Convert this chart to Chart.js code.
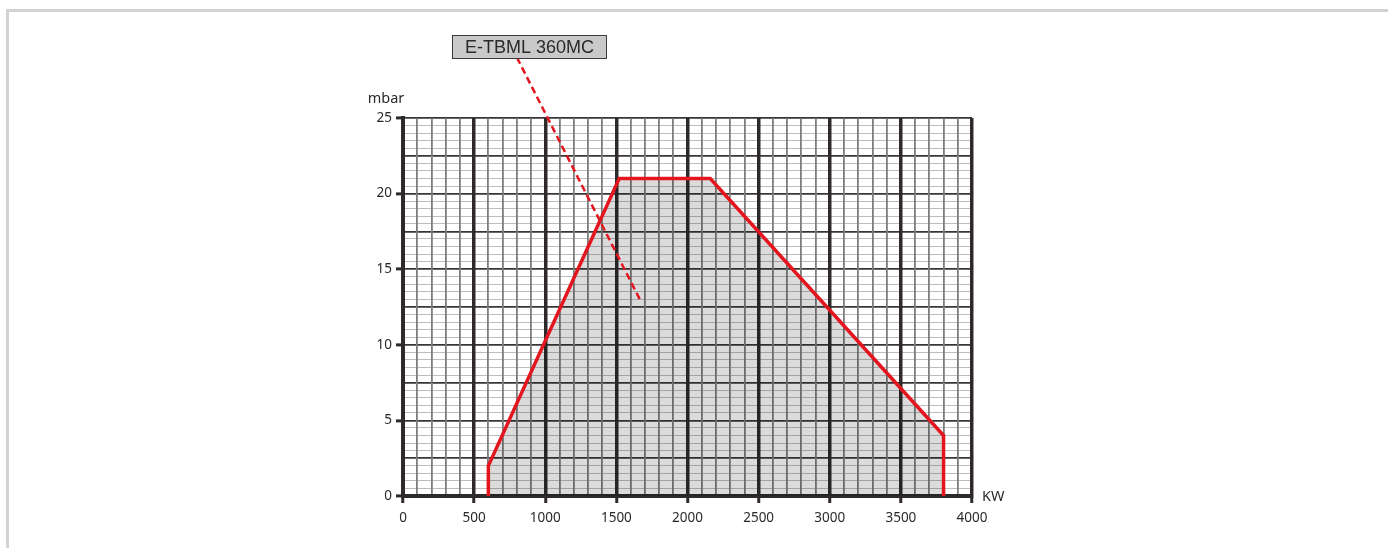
<!DOCTYPE html>
<html>
<head>
<meta charset="utf-8">
<script src="https://cdn.jsdelivr.net/npm/chart.js@4.4.1/dist/chart.umd.min.js"></script>
<style>
  html, body { margin: 0; padding: 0; background: #fff; }
  #frame { position: absolute; left: 6px; top: 9px; right: 0; bottom: 0;
           border-top: 3px solid #d2d2d2; border-left: 3px solid #d2d2d2; }
  #wrap { position: absolute; left: 0; top: 0; width: 1388px; height: 548px; }
</style>
</head>
<body>
<div id="frame"></div>
<div id="wrap"><canvas id="c" width="1388" height="548"></canvas></div>
<script>
// ---- data ----
const envelopeKW   = [600, 600, 1520, 2160, 3800, 3800];
const envelopeMbar = [0, 2, 21, 21, 4, 0];
const leaderKW     = [801, 1665];
const leaderMbar   = [29.0, 13.0];
const modelLabel   = 'E-TBML 360MC';
const xTickLabels  = [0, 500, 1000, 1500, 2000, 2500, 3000, 3500, 4000];
const yTickLabels  = [0, 5, 10, 15, 20, 25];
const xUnit = 'KW';
const yUnit = 'mbar';

const toPts = (xs, ys) => xs.map((x, i) => ({ x: x, y: ys[i] }));
const isLabelX = v => xTickLabels.some(t => Math.abs(t - v) < 1e-6);
const isLabelY = v => yTickLabels.some(t => Math.abs(t - v) < 1e-6);
const near = (v, m) => Math.abs(v / m - Math.round(v / m)) < 1e-6;

const DARK = '#2e2a2a';
const TICKFONT = { family: 'Noto Sans', size: 13.5 };

const overlay = {
  id: 'overlay',
  afterDatasetsDraw(chart) {
    const ctx = chart.ctx;
    const xs = chart.scales.x, ys = chart.scales.y, a = chart.chartArea;
    ctx.save();
    ctx.fillStyle = '#2a2a2a';
    ctx.font = '14.5px "Noto Sans"';
    ctx.textAlign = 'center';
    ctx.textBaseline = 'alphabetic';
    ctx.fillText(yUnit, a.left - 17, a.top - 15);
    ctx.textAlign = 'left';
    ctx.textBaseline = 'middle';
    ctx.fillText(xUnit, a.right + 10, a.bottom + 1);
    const px = xs.getPixelForValue(leaderKW[0]);
    const py = ys.getPixelForValue(leaderMbar[0]);
    const bw = 154, bh = 23;
    const bx = Math.round(px - 65) + 0.5, by = Math.round(py - bh) + 0.5;
    ctx.fillStyle = '#c9c9c9';
    ctx.fillRect(bx, by, bw, bh);
    ctx.strokeStyle = '#3a3a3a';
    ctx.lineWidth = 1;
    ctx.strokeRect(bx, by, bw, bh);
    ctx.fillStyle = '#2a2a2a';
    ctx.font = '18px "Liberation Sans"';
    ctx.textAlign = 'center';
    ctx.textBaseline = 'middle';
    ctx.fillText(modelLabel, bx + bw / 2, by + bh / 2 + 1);
    ctx.restore();
  }
};

new Chart(document.getElementById('c'), {
  type: 'line',
  data: {
    datasets: [
      {
        data: toPts(leaderKW, leaderMbar),
        borderColor: '#e3161f',
        borderWidth: 2.5,
        borderDash: [7, 4],
        pointRadius: 0,
        fill: false,
        clip: false,
        order: 0
      },
      {
        data: toPts(envelopeKW, envelopeMbar),
        borderColor: '#e3161f',
        borderWidth: 3.5,
        borderJoinStyle: 'miter',
        backgroundColor: 'rgba(0,0,0,0.14)',
        pointRadius: 0,
        fill: 'origin',
        tension: 0,
        order: 1
      }
    ]
  },
  options: {
    responsive: false,
    animation: false,
    events: [],
    layout: { padding: { left: 0, right: 416, top: 118, bottom: 0 } },
    plugins: { legend: { display: false }, tooltip: { enabled: false }, title: { display: false } },
    scales: {
      x: {
        type: 'linear',
        min: 0, max: 4000,
        afterFit(s) { s.height = 52; },
        ticks: {
          stepSize: 100, autoSkip: false, maxRotation: 0, padding: 7,
          color: '#2a2a2a', font: TICKFONT,
          callback: v => isLabelX(v) ? String(v) : ''
        },
        grid: {
          z: 0,
          drawOnChartArea: true, drawTicks: true, tickLength: 7,
          color: c => near(c.tick.value, 500) ? DARK : '#7d7d7d',
          lineWidth: c => near(c.tick.value, 500) ? 3.5 : 1.8,
          tickColor: c => isLabelX(c.tick.value) ? DARK : 'rgba(0,0,0,0)',
          tickWidth: 3
        },
        border: { display: true, color: DARK, width: 4, z: 0 }
      },
      y: {
        type: 'linear',
        min: 0, max: 25,
        afterFit(s) { s.width = 403; },
        ticks: {
          stepSize: 0.5, autoSkip: false, padding: 4,
          color: '#2a2a2a', font: TICKFONT,
          callback: v => isLabelY(v) ? String(v) : ''
        },
        grid: {
          z: -1,
          drawOnChartArea: true, drawTicks: true, tickLength: 7,
          color: c => near(c.tick.value, 2.5) ? '#3a3636' : '#bdbdbd',
          lineWidth: c => near(c.tick.value, 2.5) ? 1.8 : 1,
          tickColor: c => isLabelY(c.tick.value) ? DARK : 'rgba(0,0,0,0)',
          tickWidth: 3
        },
        border: { display: true, color: DARK, width: 4, z: 0 }
      }
    }
  },
  plugins: [overlay]
});
</script>
</body>
</html>
